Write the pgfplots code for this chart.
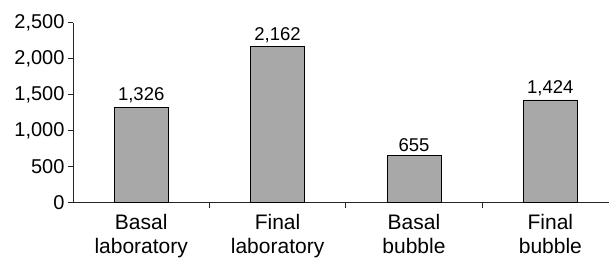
\documentclass[border=0pt]{standalone}
\usepackage{fontspec}
\setmainfont{Liberation Sans}
\usepackage{pgfplots}
\pgfplotsset{compat=1.18}
\definecolor{bargray}{RGB}{168,168,168}
\begin{document}
\begin{tikzpicture}
\begin{axis}[
  scale only axis,
  width=536pt, height=180pt,
  at={(0pt,0pt)}, anchor=south west,
  xmin=-0.5, xmax=3.43,
  ymin=0, ymax=2500,
  axis lines*=left,
  axis line style={black!85, line width=0.8pt},
  tick style={black!85, line width=0.8pt},
  tick align=outside,
  major tick length=5pt,
  ytick={0,500,1000,1500,2000,2500},
  xtick={0.5,1.5,2.5},
  xticklabels={},
  extra x ticks={0,1,2,3},
  extra x tick labels={{Basal\\laboratory},{Final\\laboratory},{Basal\\bubble},{Final\\bubble}},
  extra x tick style={major tick length=0pt, tick style={draw=none}},
  xticklabel style={align=center, font=\fontsize{21}{24}\selectfont, inner sep=0pt, yshift=-12pt},
  yticklabel style={font=\fontsize{20}{24}\selectfont},
  /pgf/number format/.cd, 1000 sep={,}, assume math mode=true,
  /pgfplots/.cd,
  ybar, bar width=0.395,
  nodes near coords,
  nodes near coords style={font=\fontsize{18.5}{21}\selectfont, /pgf/number format/1000 sep={,}, /pgf/number format/assume math mode=true},
]
\addplot[fill=bargray, draw=black, line width=0.8pt] coordinates {(0,1326) (1,2162) (2,655) (3,1424)};
\end{axis}
\pgfresetboundingbox
\useasboundingbox (-73pt,-55.5pt) rectangle (536pt,202.5pt);
\end{tikzpicture}
\end{document}
